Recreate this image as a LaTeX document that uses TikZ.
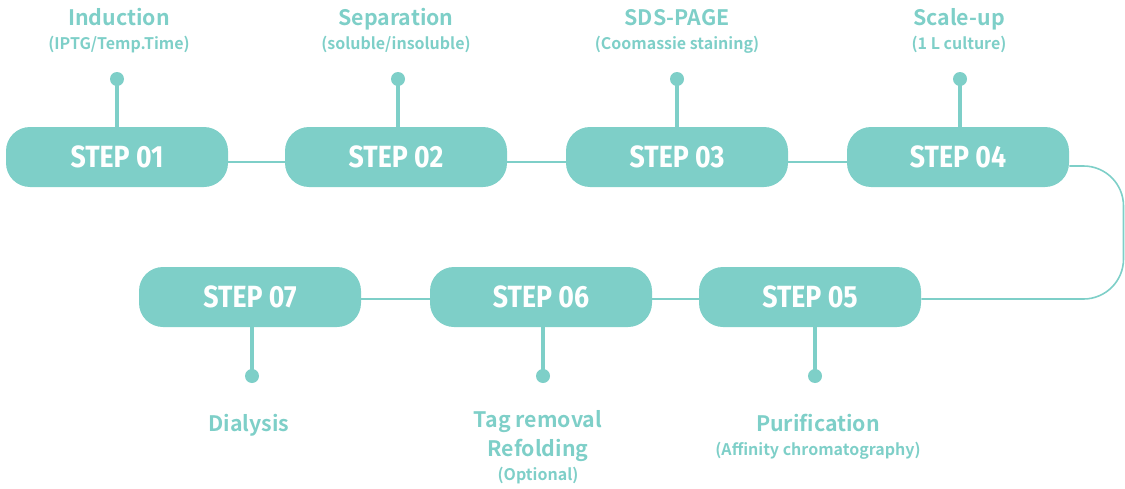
\documentclass[tikz,border=0pt]{standalone}
\usepackage{fontspec}
\setmainfont{Noto Sans CJK KR}[BoldFont={* Bold}]
\newfontfamily\stepfont{Fira Sans}
\definecolor{teal1}{HTML}{7ECFC8}
\begin{document}
\begin{tikzpicture}[x=0.75pt,y=-0.75pt,
  stepbox/.style={fill=teal1,rounded corners=24pt*0.75,minimum width=222*0.75pt,minimum height=60*0.75pt,inner sep=0pt,
     font=\stepfont\bfseries\fontsize{23pt}{24pt}\selectfont,text=white},
  link/.style={draw=teal1,line width=1.2pt},
  stem/.style={draw=teal1,line width=3pt},
  dotc/.style={circle,fill=teal1,minimum size=14*0.75pt,inner sep=0pt},
  ttl/.style={anchor=base,text=teal1,font=\bfseries\fontsize{16pt}{18pt}\selectfont,inner sep=0pt},
  sub/.style={anchor=base,text=teal1,font=\bfseries\fontsize{12pt}{13pt}\selectfont,inner sep=0pt},
  ml/.style={anchor=base,text=teal1,font=\bfseries\fontsize{16pt}{22.5pt}\selectfont,inner sep=0pt,align=center}]
\useasboundingbox (0,0) rectangle (1125,489);
\newcommand{\stp}[1]{\scalebox{0.87}[1]{#1}}
% row 1
\node[stepbox] (s1) at (117,157) {\stp{STEP 01}};
\node[stepbox] (s2) at (396,157) {\stp{STEP 02}};
\node[stepbox] (s3) at (677,157) {\stp{STEP 03}};
\node[stepbox] (s4) at (958,157) {\stp{STEP 04}};
% row 2
\node[stepbox] (s7) at (250,297) {\stp{STEP 07}};
\node[stepbox] (s6) at (541,297) {\stp{STEP 06}};
\node[stepbox] (s5) at (810,297) {\stp{STEP 05}};
% links
\draw[link] (s1.east |- 0,162) -- (s2.west |- 0,162);
\draw[link] (s2.east |- 0,162) -- (s3.west |- 0,162);
\draw[link] (s3.east |- 0,162) -- (s4.west |- 0,162);
\coordinate (c1) at (1123.5,166);
\coordinate (c2) at (1123.5,299);
\draw[link,rounded corners=40*0.75pt] (s4.east |- 0,166) -- (c1) -- (c2) -- (s5.east |- 0,299);
\draw[link] (s5.west |- 0,299) -- (s6.east |- 0,299);
\draw[link] (s6.west |- 0,299) -- (s7.east |- 0,299);
% dots and stems
\node[dotc] (d1) at (117,79) {};
\node[dotc] (d2) at (398,79) {};
\node[dotc] (d3) at (677,79) {};
\node[dotc] (d4) at (960,79) {};
\node[dotc] (d7) at (252,376) {};
\node[dotc] (d6) at (543,376) {};
\node[dotc] (d5) at (815,376) {};
\draw[stem] (d1.center) -- (d1.center |- s1.north);
\draw[stem] (d2.center) -- (d2.center |- s2.north);
\draw[stem] (d3.center) -- (d3.center |- s3.north);
\draw[stem] (d4.center) -- (d4.center |- s4.north);
\draw[stem] (d7.center) -- (d7.center |- s7.south);
\draw[stem] (d6.center) -- (d6.center |- s6.south);
\draw[stem] (d5.center) -- (d5.center |- s5.south);
% labels
\node[ttl] (t1) at (119,26) {Induction};
\node[sub] (u1) at (119,50) {(IPTG/Temp.Time)};
\node[ttl] (t2) at (396,26) {Separation};
\node[sub] (u2) at (396,50) {(soluble/insoluble)};
\node[ttl] (t3) at (677,26) {SDS-PAGE};
\node[sub] (u3) at (677,50) {(Coomassie staining)};
\node[ttl] (t4) at (959,26) {Scale-up};
\node[sub] (u4) at (959,50) {(1 L culture)};
\node[ttl] (t7) at (249,431) {Dialysis};
\node[ttl] (t6a) at (538,427) {Tag removal};
\node[ttl] (t6b) at (538,456) {Refolding};
\node[sub] (u6) at (538,480) {(Optional)};
\node[ttl] (t5) at (818,431) {Purification};
\node[sub] (u5) at (818,455) {(Affinity chromatography)};
\end{tikzpicture}
\end{document}
